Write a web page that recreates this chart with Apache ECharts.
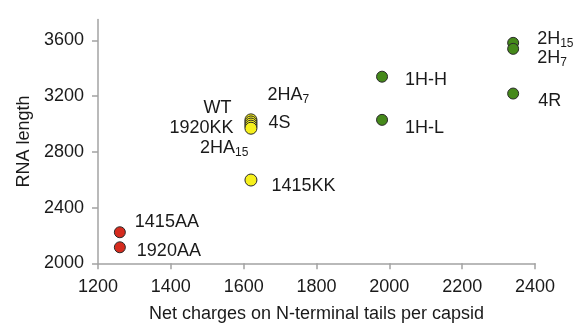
<!DOCTYPE html>
<html>
<head>
<meta charset="utf-8">
<script src="https://cdn.jsdelivr.net/npm/echarts@6/dist/echarts.min.js"></script>
<style>
html,body{margin:0;padding:0;background:#fff;}
#c{width:579px;height:323px;}
</style>
</head>
<body>
<div id="c"></div>
<script>
// ---- data ----
const redNames = ['1415AA', '1920AA'];
const redX = [1260, 1260];
const redY = [2223, 2115];

const yellowNames = ['1415KK', '2HA7', 'WT', '4S', '1920KK', '2HA15'];
const yellowX = [1620, 1620, 1620, 1620, 1620, 1620];
const yellowY = [2598, 3030, 3015, 3000, 2985, 2970];

const greenNames = ['1H-H', '1H-L', '2H15', '2H7', '4R'];
const greenX = [1980, 1980, 2340, 2340, 2340];
const greenY = [3340, 3030, 3583, 3540, 3219];

const xTicks = [1200, 1400, 1600, 1800, 2000, 2200, 2400];
const yTicks = [2000, 2400, 2800, 3200, 3600];

// ---- label formatting / layout (style only) ----
const labelText = {
  '2HA7': '{n|2HA}{s|7}',
  '2HA15': '{n|2HA}{s|15}',
  '2H15': '{n|2H}{s|15}',
  '2H7': '{n|2H}{s|7}'
};
const labelLayout = {
  '1415AA': ['right', [9, -10]],
  '1920AA': ['right', [11, 4]],
  '1415KK': ['right', [14, 6]],
  '2HA7': ['right', [10, -25]],
  'WT': ['left', [-13, -14]],
  '4S': ['right', [11, -1]],
  '1920KK': ['left', [-11, 2]],
  '2HA15': ['left', [4, 20]],
  '1H-H': ['right', [17, 3]],
  '1H-L': ['right', [17, 8]],
  '2H15': ['right', [18, -4]],
  '2H7': ['right', [18, 9]],
  '4R': ['right', [19, 7]]
};

const FONT = 'Liberation Sans';
const FS = 18;
const rich = {
  n: {fontFamily: FONT, fontSize: FS, color: '#1a1a1a'},
  s: {fontFamily: FONT, fontSize: 12, color: '#1a1a1a', padding: [9, 0, 0, 0]}
};

function buildData(names, xs, ys) {
  return names.map((nm, i) => {
    const lay = labelLayout[nm];
    return {
      value: [xs[i], ys[i]],
      name: nm,
      label: {
        show: true,
        position: lay[0],
        distance: 0,
        offset: lay[1],
        formatter: labelText[nm] || ('{n|' + nm + '}'),
        rich: rich
      }
    };
  });
}

function series(names, xs, ys, color, size) {
  return {
    type: 'scatter',
    symbol: 'circle',
    symbolSize: size,
    itemStyle: {color: color, borderColor: '#2a2a2a', borderWidth: 1, opacity: 1},
    data: buildData(names, xs, ys),
    z: 3
  };
}

const chart = echarts.init(document.getElementById('c'), null, {renderer: 'canvas'});
const axisColor = '#a3a3a3';
const plain = v => String(v);
chart.setOption({
  animation: false,
  backgroundColor: '#ffffff',
  grid: {left: 98, right: 44, top: 19.6, bottom: 59.7, containLabel: false, outerBoundsMode: 'none'},
  xAxis: {
    type: 'value',
    min: 1200, max: 2400, interval: 200,
    name: 'Net charges on N-terminal tails per capsid',
    nameLocation: 'middle',
    nameGap: 42,
    nameTextStyle: {fontFamily: FONT, fontSize: FS, color: '#1a1a1a'},
    splitLine: {show: false},
    axisLine: {lineStyle: {color: axisColor, width: 1.5}},
    axisTick: {show: true, inside: false, length: 6, lineStyle: {color: axisColor, width: 1.5}, customValues: xTicks},
    axisLabel: {fontFamily: FONT, fontSize: FS, color: '#1a1a1a', margin: 15, customValues: xTicks, formatter: plain}
  },
  yAxis: {
    type: 'value',
    min: 2000, max: 3750, interval: 400,
    name: 'RNA length',
    nameLocation: 'middle',
    nameGap: 58,
    nameTextStyle: {fontFamily: FONT, fontSize: FS, color: '#1a1a1a'},
    splitLine: {show: false},
    axisLine: {show: true, lineStyle: {color: axisColor, width: 1.5}},
    axisTick: {show: true, inside: false, length: 6, lineStyle: {color: axisColor, width: 1.5}, customValues: yTicks},
    axisLabel: {fontFamily: FONT, fontSize: FS, color: '#1a1a1a', margin: 14, customValues: yTicks, formatter: plain}
  },
  series: [
    series(redNames, redX, redY, '#d52b1e', 11),
    series(yellowNames, yellowX, yellowY, '#f6f01c', 12),
    series(greenNames, greenX, greenY, '#45891a', 11)
  ]
});
</script>
</body>
</html>
